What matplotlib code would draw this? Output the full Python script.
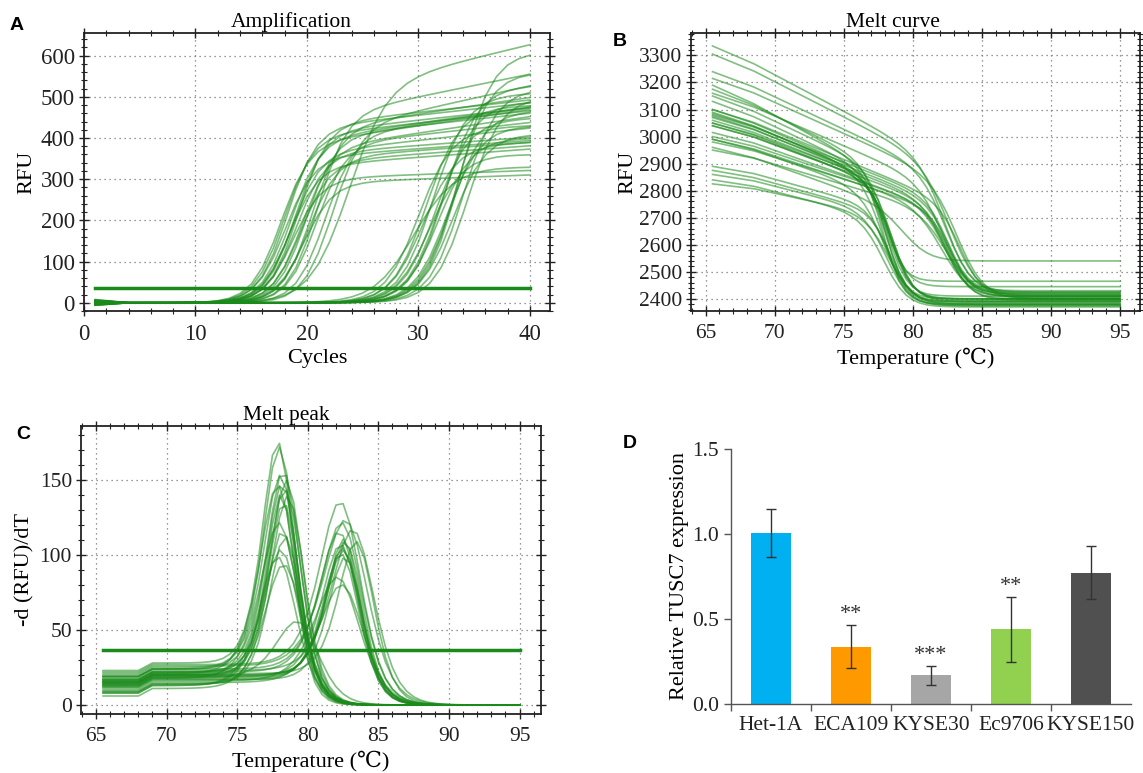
import numpy as np
import matplotlib
matplotlib.use("Agg")
import matplotlib.pyplot as plt
from matplotlib.ticker import MultipleLocator

plt.rcParams['font.family'] = ['Liberation Serif', 'DejaVu Serif']

# ---------------- panel A: amplification, one entry per well ----------------
amp_cycles = np.arange(1, 41)
# early wells (Ct ~15-20) then late wells (Ct ~26-31)
amp_mid = [17.6, 17.9, 18.0, 18.2, 18.4, 18.5, 18.6, 18.7, 18.9, 19.0, 19.2,
           19.4, 19.5, 19.7, 19.9, 20.1, 20.4, 20.8, 20.9, 21.6, 22.2, 23.6,
           29.6, 30.0, 30.4, 30.7, 31.0, 31.3, 31.5, 31.8, 32.0, 32.3, 32.6,
           32.9, 33.1, 33.4, 33.7, 34.0, 34.4]
amp_plateau = [380, 400, 350, 420, 330, 390, 360, 300, 410, 360, 430,
               340, 370, 290, 400, 350, 420, 380, 450, 400, 420, 520,
               330, 420, 380, 470, 360, 500, 440, 400, 480, 520, 430,
               460, 410, 560, 610, 520, 500]
amp_drift = [4, 3, 2, 3, 2, 4, 3, 1, 3, 2, 3,
             2, 4, 1, 3, 2, 4, 3, 5.5, 4, 6, 6.5,
             0, 1, 1, 1, 0, 1, 1, 0, 1, 1, 0,
             1, 0, 0, 0, 0, 0]
amp_width = [1.3] * 21 + [1.7] + [1.8] + [1.5] * 16
# baseline wobble of the first cycles
amp_start_offset = [6, -4, 3, -6, 8, 0, -3, 5, -2, 4, -5, 2, 7, -1, 3, -4, 1, 6, -3, 2,
                    -6, 4, 5, -2, 3, -5, 1, 6, -3, 2, -4, 4, 0, -2, 5, -6, 3, 1, -1]
amp_threshold = 37

# ---------------- panels B/C: melt, one entry per well ----------------
melt_temp = np.arange(65.5, 95.01, 0.5)
# first 18 wells melt near 78 C, the other 15 near 83 C
melt_start = [3190, 3175, 3150, 3130, 3100, 3090, 3085, 3075, 3060, 3050, 3040,
              2990, 2890, 2875, 2860, 2840, 2825, 2960,
              3335, 3305, 3240, 3215, 3160, 3100, 3080, 3070, 3050, 3040, 3015,
              3000, 2990, 2980, 2950]
melt_slope = [28, 25, 24, 24, 22, 22, 21, 21, 20, 20, 19,
              18, 14, 14, 13, 13, 11, 18,
              27, 26, 24, 23, 22, 21, 20, 20, 19, 19, 18,
              17, 17, 16, 15]
melt_tm = [78.0, 78.1, 78.4, 78.2, 78.6, 78.3, 78.0, 78.5, 78.2, 78.7, 78.4,
           78.1, 78.3, 78.5, 78.2, 78.0, 78.4, 79.6,
           82.5, 82.9, 82.6, 83.4, 82.4, 83.6, 82.7, 82.8, 82.5, 82.6, 82.7,
           82.5, 82.8, 82.3, 82.6]
melt_peak = [181, 177, 160, 157, 154, 152, 150, 148, 146, 143, 140,
             124, 120, 116, 106, 101, 96, 55,
             137, 124, 123, 118, 117, 111, 113, 111, 109, 107, 105,
             103, 101, 86, 81]
melt_final = [2380, 2390, 2400, 2385, 2395, 2410, 2375, 2400, 2465, 2390, 2445,
              2380, 2400, 2390, 2375, 2370, 2380, 2540,
              2420, 2410, 2425, 2400, 2415, 2405, 2430, 2410, 2400, 2420, 2395,
              2410, 2425, 2405, 2415]
melt_threshold = 37

# ---------------- panel D ----------------
cell_lines = ['Het-1A', 'ECA109', 'KYSE30', 'Ec9706', 'KYSE150']
expression = [1.005, 0.338, 0.168, 0.439, 0.773]
expression_err = [0.143, 0.126, 0.055, 0.190, 0.155]
significance = ['', '**', '***', '**', '']
bar_colors = ['#00b0f0', '#ff9900', '#a6a6a6', '#92d050', '#505050']

GREEN = '#1a8a1a'
W, H = 1143, 773


def px_axes(fig, x0, y0, x1, y1):
    # axes from pixel box (top-left origin)
    return fig.add_axes([x0 / W, 1 - y1 / H, (x1 - x0) / W, (y1 - y0) / H])


def amp_curve(mid, plateau, drift, width, offset):
    sig = 1 / (1 + np.exp(-(amp_cycles - mid) / width))
    base = offset * np.clip(4 - amp_cycles, 0, 3) / 3  # fades out by cycle 4
    return sig * (plateau + drift * np.maximum(amp_cycles - mid, 0)) + base


def melt_curve(start, slope, tm, peak, final):
    t = melt_temp
    pre = start - slope * (t - 65.5) + 5 * np.minimum(t - 65.5, 3)
    pre_tm = start - slope * (tm - 65.5) + 15
    w = (pre_tm - final) / (4 * (peak - slope / 2))
    return final + (pre - final) / (1 + np.exp((t - tm) / w))


def style_qpcr(ax, xmaj, xmin, ymaj, ymin, fs):
    ax.xaxis.set_major_locator(MultipleLocator(xmaj))
    ax.xaxis.set_minor_locator(MultipleLocator(xmin))
    ax.yaxis.set_major_locator(MultipleLocator(ymaj))
    ax.yaxis.set_minor_locator(MultipleLocator(ymin))
    ax.tick_params(which='both', direction='inout', top=True, right=True,
                   labelsize=fs, colors='#222')
    ax.tick_params(which='major', length=7, width=1)
    ax.tick_params(which='minor', length=4, width=0.8)
    ax.tick_params(axis='x', pad=6)
    ax.tick_params(axis='y', pad=3)
    ax.grid(True, which='major', linestyle=(0, (1, 3)), color='#777', lw=0.9)
    for sp in ax.spines.values():
        sp.set_linewidth(1.3)
        sp.set_color('#222')


fig = plt.figure(figsize=(W / 100, H / 100), dpi=100)

# ---- A ----
ax = px_axes(fig, 84, 33, 550, 311)
for m, p, d, w, o in zip(amp_mid, amp_plateau, amp_drift, amp_width, amp_start_offset):
    ax.plot(amp_cycles, amp_curve(m, p, d, w, o), color=GREEN, alpha=0.55, lw=1.2)
ax.plot([1, 40], [amp_threshold, amp_threshold], color=GREEN, lw=2.5)
ax.set_xlim(0, 41.8)
ax.set_ylim(-20, 655)
style_qpcr(ax, 10, 2, 100, 20, 16.5)
ax.set_title('Amplification', fontsize=15.5, x=0.445, pad=4)
ax.set_xlabel('Cycles', fontsize=16, labelpad=3)
ax.set_ylabel('RFU', fontsize=16, labelpad=3)

# ---- B and C ----
axb = px_axes(fig, 691, 33, 1140, 311)
axc = px_axes(fig, 81, 426, 541, 714)
for s, sl, tm, pk, fin in zip(melt_start, melt_slope, melt_tm, melt_peak, melt_final):
    rfu = melt_curve(s, sl, tm, pk, fin)
    axb.plot(melt_temp, rfu, color=GREEN, alpha=0.55, lw=1.2)
    axc.plot(melt_temp, -np.gradient(rfu, melt_temp), color=GREEN, alpha=0.55, lw=1.2)
axc.plot([65.5, 95], [melt_threshold, melt_threshold], color=GREEN, lw=2.5)

axb.set_xlim(63.94, 96.45)
axb.set_ylim(2355, 3383)
style_qpcr(axb, 5, 1, 100, 20, 15.5)
axb.set_title('Melt curve', fontsize=15.5, x=0.45, pad=4)
axb.set_xlabel('Temperature (\u2103)', fontsize=16, labelpad=3)
axb.set_ylabel('RFU', fontsize=16, labelpad=1)

axc.set_xlim(63.94, 96.52)
axc.set_ylim(-6, 186)
style_qpcr(axc, 5, 1, 50, 10, 15.5)
axc.set_title('Melt peak', fontsize=15.5, x=0.446, pad=4)
axc.set_xlabel('Temperature (\u2103)', fontsize=16, labelpad=3)
axc.set_ylabel('-d (RFU)/dT', fontsize=16, labelpad=4)

# ---- D ----
axd = px_axes(fig, 731, 449, 1131, 704)
xpos = np.arange(len(cell_lines))
axd.bar(xpos, expression, width=0.5, color=bar_colors, zorder=2)
axd.errorbar(xpos, expression, yerr=expression_err, fmt='none', ecolor='#333',
             elinewidth=1, capsize=3.5, capthick=1, zorder=3)
for x, v, e, s in zip(xpos, expression, expression_err, significance):
    if s:
        axd.text(x, v + e + 0.005, s, ha='center', va='bottom', fontsize=16, color='#333')
axd.set_xlim(-0.5, 4.5)
axd.set_ylim(0, 1.5)
axd.set_yticks([0, 0.5, 1.0, 1.5])
axd.set_yticklabels(['0.0', '0.5', '1.0', '1.5'])
axd.set_xticks(xpos)
axd.set_xticklabels(cell_lines)
axd.set_xticks(np.arange(-0.5, 4.0, 1), minor=True)
axd.tick_params(axis='x', which='major', length=0, pad=9, labelsize=15.5, colors='#222')
axd.tick_params(axis='x', which='minor', length=5, width=1, color='#555', direction='out')
axd.tick_params(axis='y', length=5, width=1, color='#555', labelsize=15.5, labelcolor='#222')
for side in ['top', 'right']:
    axd.spines[side].set_visible(False)
for side in ['left', 'bottom']:
    axd.spines[side].set_color('#555')
    axd.spines[side].set_linewidth(1)
axd.set_ylabel('Relative TUSC7 expression', fontsize=16, labelpad=2)

# panel letters
for letter, (lx, ly) in zip('ABCD', [(17, 25), (620, 42), (23, 435), (630, 443)]):
    fig.text(lx / W, 1 - ly / H, letter, fontsize=14, fontweight='bold',
             family=['Liberation Sans', 'DejaVu Sans'], ha='center', va='center')

fig.savefig('out.png', dpi=100)
